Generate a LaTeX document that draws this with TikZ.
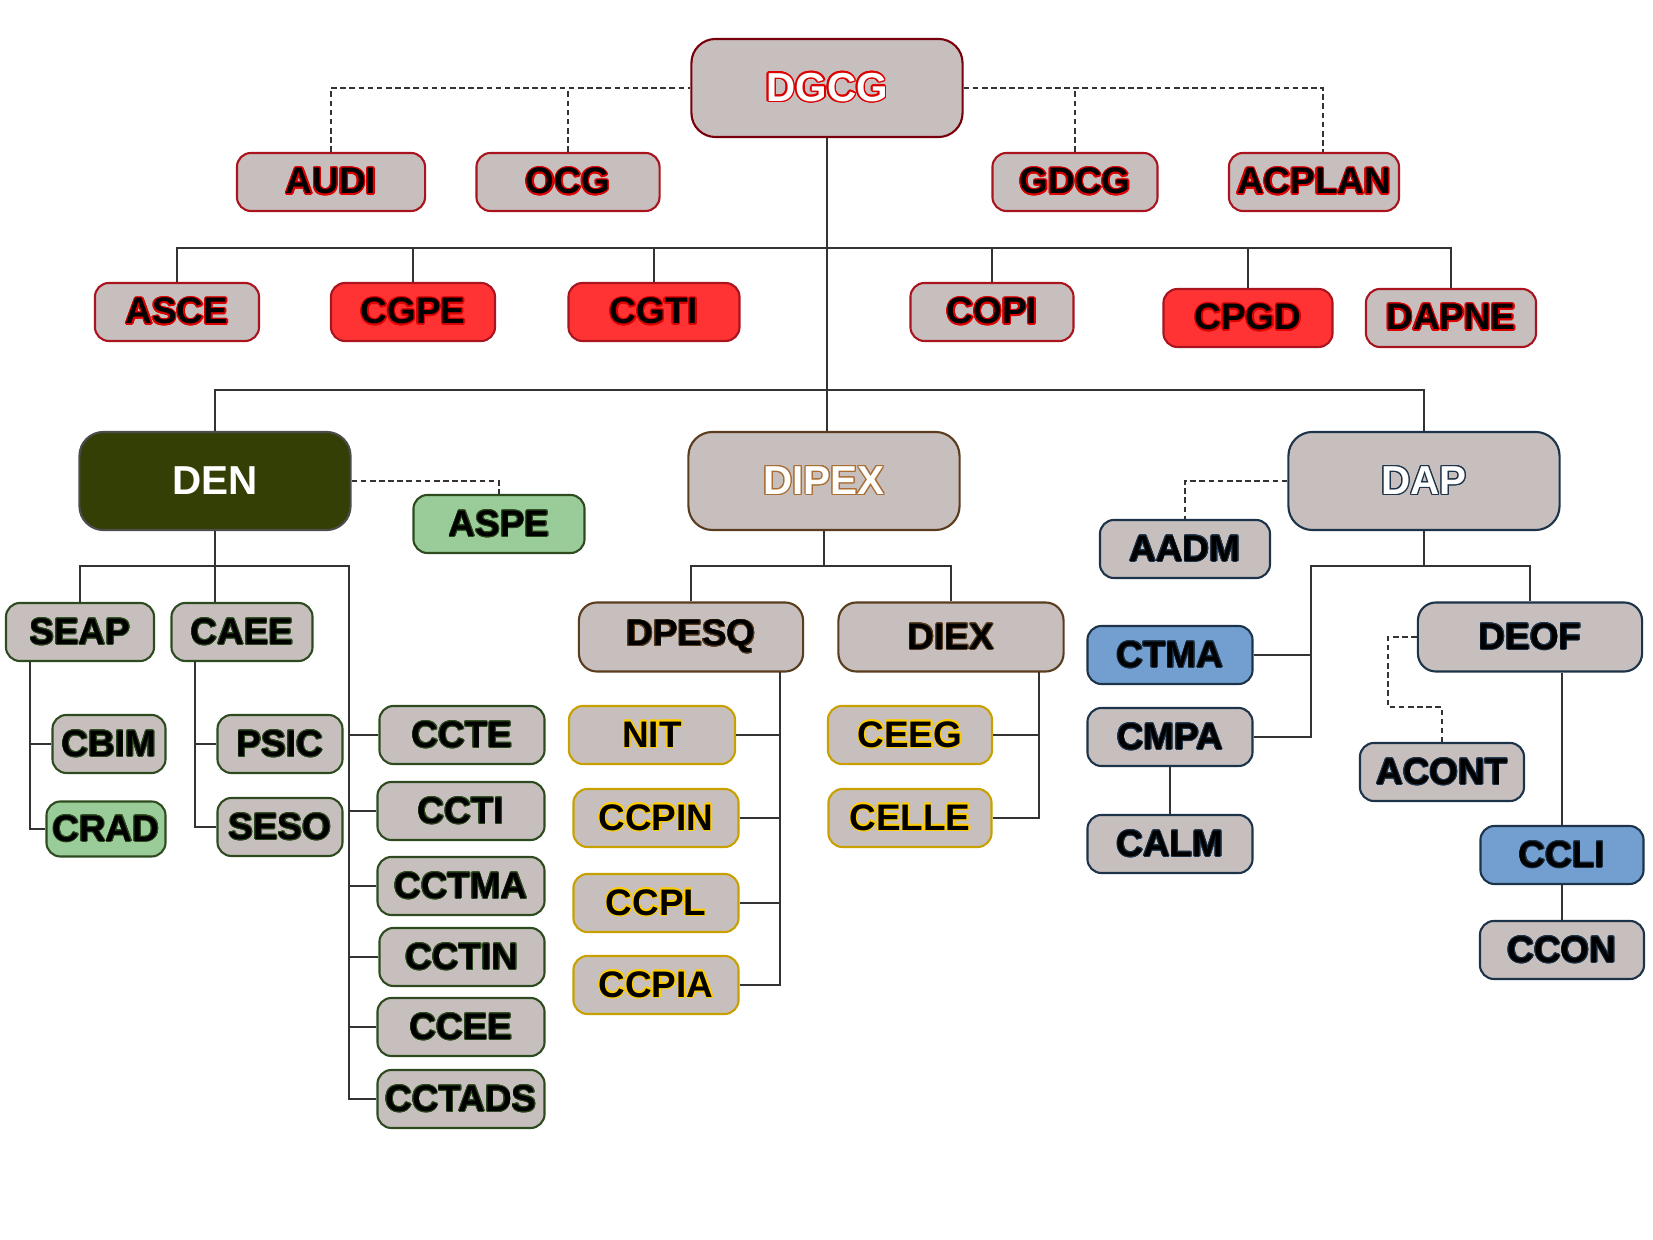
\documentclass[tikz,border=0pt]{standalone}
\usepackage{fontspec}
\setmainfont{Liberation Sans}
\usepackage{contour}
\contourlength{0.45pt}

\definecolor{boxgray}{RGB}{199,191,189}
\definecolor{boxred}{RGB}{255,51,51}
\definecolor{boxgreen}{RGB}{153,204,153}
\definecolor{boxblue}{RGB}{114,159,207}
\definecolor{denfill}{RGB}{51,63,4}
\definecolor{edgered}{RGB}{170,20,30}
\definecolor{edgedark}{RGB}{120,0,10}
\definecolor{edgegreen}{RGB}{45,75,30}
\definecolor{edgebrown}{RGB}{90,60,30}
\definecolor{edgegold}{RGB}{200,160,0}
\definecolor{edgenavy}{RGB}{28,51,73}
\definecolor{txtred}{RGB}{220,0,0}
\definecolor{txtgold}{RGB}{255,205,0}
\definecolor{txtbrown}{RGB}{170,110,50}

\newcommand{\rtxt}[1]{{\contourlength{0.4pt}\contour{txtred}{#1}}}
\newcommand{\gtxt}[1]{{\contourlength{0.2pt}\contour{edgegreen}{#1}}}
\newcommand{\ytxt}[1]{{\contourlength{0.35pt}\contour{txtgold}{#1}}}
\newcommand{\btxt}[1]{{\contourlength{0.2pt}\contour{edgenavy}{#1}}}
\newcommand{\otxt}[1]{{\contourlength{0.2pt}\contour{edgebrown}{#1}}}

\tikzset{
  unit/.style={rounded corners=0.14cm, fill=boxgray, line width=0.6pt,
    minimum width=1.65cm, minimum height=0.58cm, inner sep=0pt,
    font=\bfseries\fontsize{10.5}{12}\selectfont},
  head/.style={unit, rounded corners=0.24cm, minimum width=2.71cm,
    minimum height=0.98cm, font=\bfseries\fontsize{11.5}{13}\selectfont},
  midunit/.style={unit, rounded corners=0.18cm, minimum width=2.24cm, minimum height=0.69cm},
  redunit/.style={unit, draw=edgered},
  greenunit/.style={unit, draw=edgegreen},
  brownunit/.style={midunit, draw=edgebrown},
  goldunit/.style={unit, draw=edgegold},
  navyunit/.style={unit, draw=edgenavy},
  link/.style={draw=black!80, line width=0.5pt},
  dotlink/.style={draw=black!80, line width=0.45pt, dash pattern=on 1.6pt off 1pt}
}

\begin{document}
\begin{tikzpicture}[x=0.01cm, y=-0.01cm]
	\useasboundingbox (0,0) rectangle (1653,1240);
	
	\node[head, draw=edgedark, text=white] (DGCG) at (827,88) {{\contourlength{0.45pt}\contour{txtred}{DGCG}}};
	\node[redunit, minimum width=1.88cm] (AUDI) at (331,182) {\rtxt{AUDI}};
	\node[redunit, minimum width=1.83cm] (OCG) at (568,182) {\rtxt{OCG}};
	\node[redunit] (GDCG) at (1075,182) {\rtxt{GDCG}};
	\node[redunit, minimum width=1.70cm] (ACPLAN) at (1314,182) {\rtxt{ACPLAN}};
	
	\node[redunit, minimum width=1.64cm] (ASCE) at (177,312) {\rtxt{ASCE}};
	\node[redunit, fill=boxred, minimum width=1.64cm] (CGPE) at (413,312) {\rtxt{CGPE}};
	\node[redunit, fill=boxred, minimum width=1.71cm] (CGTI) at (654,312) {\rtxt{CGTI}};
	\node[redunit, minimum width=1.63cm] (COPI) at (992,312) {\rtxt{COPI}};
	\node[redunit, fill=boxred, minimum width=1.69cm] (CPGD) at (1248,318) {\rtxt{CPGD}};
	\node[redunit, minimum width=1.70cm] (DAPNE) at (1451,318) {\rtxt{DAPNE}};
	
	\node[head, fill=denfill, draw=black!70, text=white] (DEN) at (215,481) {DEN};
	\node[head, draw=edgebrown, text=white] (DIPEX) at (824,481) {{\contourlength{0.3pt}\contour{txtbrown}{DIPEX}}};
	\node[head, draw=edgenavy, text=white] (DAP) at (1424,481) {{\contourlength{0.3pt}\contour{edgenavy}{DAP}}};
	
	\node[greenunit, fill=boxgreen, minimum width=1.71cm] (ASPE) at (499,524) {\gtxt{ASPE}};
	\node[navyunit, minimum width=1.70cm] (AADM) at (1185,549) {\btxt{AADM}};
	
	\node[greenunit, minimum width=1.48cm] (SEAP) at (80,632) {\gtxt{SEAP}};
	\node[greenunit, minimum width=1.41cm] (CAEE) at (242,632) {\gtxt{CAEE}};
	\node[greenunit, minimum width=1.13cm] (CBIM) at (109,744) {\gtxt{CBIM}};
	\node[greenunit, fill=boxgreen, minimum width=1.19cm, minimum height=0.55cm] (CRAD) at (106,829) {\gtxt{CRAD}};
	\node[greenunit, minimum width=1.25cm] (PSIC) at (280,744) {\gtxt{PSIC}};
	\node[greenunit, minimum width=1.25cm] (SESO) at (280,827) {\gtxt{SESO}};
	
	\node[greenunit] (CCTE) at (462,735) {\gtxt{CCTE}};
	\node[greenunit, minimum width=1.67cm] (CCTI) at (461,811) {\gtxt{CCTI}};
	\node[greenunit, minimum width=1.67cm] (CCTMA) at (461,886) {\gtxt{CCTMA}};
	\node[greenunit] (CCTIN) at (462,957) {\gtxt{CCTIN}};
	\node[greenunit, minimum width=1.67cm] (CCEE) at (461,1027) {\gtxt{CCEE}};
	\node[greenunit, minimum width=1.67cm] (CCTADS) at (461,1099) {\gtxt{CCTADS}};
	
	\node[brownunit] (DPESQ) at (691,637) {\otxt{DPESQ}};
	\node[brownunit, minimum width=2.25cm] (DIEX) at (951,637) {\otxt{DIEX}};
	\node[goldunit, minimum width=1.66cm] (NIT) at (652,735) {\ytxt{NIT}};
	\node[goldunit] (CCPIN) at (656,818) {\ytxt{CCPIN}};
	\node[goldunit] (CCPL) at (656,903) {\ytxt{CCPL}};
	\node[goldunit] (CCPIA) at (656,985) {\ytxt{CCPIA}};
	\node[goldunit, minimum width=1.64cm] (CEEG) at (910,735) {\ytxt{CEEG}};
	\node[goldunit, minimum width=1.63cm] (CELLE) at (910,818) {\ytxt{CELLE}};
	
	\node[navyunit, midunit, draw=edgenavy] (DEOF) at (1530,637) {\btxt{DEOF}};
	\node[navyunit, fill=boxblue] (CTMA) at (1170,655) {\btxt{CTMA}};
	\node[navyunit] (CMPA) at (1170,737) {\btxt{CMPA}};
	\node[navyunit] (CALM) at (1170,844) {\btxt{CALM}};
	\node[navyunit, minimum width=1.64cm] (ACONT) at (1442,772) {\btxt{ACONT}};
	\node[navyunit, fill=boxblue, minimum width=1.63cm] (CCLI) at (1562,855) {\btxt{CCLI}};
	\node[navyunit, minimum width=1.64cm] (CCON) at (1562,950) {\btxt{CCON}};
	
	\coordinate (bus1) at (827,248);
	\coordinate (bus2) at (827,390);
	\coordinate (dencol) at (349,566);
	\coordinate (seapcol) at (30,661);
	\coordinate (caeecol) at (195,661);
	\coordinate (dipexbus) at (824,566);
	\coordinate (dpesqcol) at (780,672);
	\coordinate (diexcol) at (1039,672);
	\coordinate (dapleft) at (1311,566);
	\coordinate (acontbend) at (1388,707);
	
	\draw[dotlink] (AUDI.north) |- (DGCG.west);
	\draw[dotlink] (OCG.north) -- (OCG.north |- DGCG.west);
	\draw[dotlink] (DGCG.east) -| ([xshift=0.09cm]ACPLAN.north);
	\draw[dotlink] (GDCG.north) -- (GDCG.north |- DGCG.east);
	\draw[dotlink] (DEN.east) -| (ASPE.north);
	\draw[dotlink] (DAP.west) -| (AADM.north);
	\draw[dotlink] (DEOF.west) -| (acontbend) -| (ACONT.north);
	
	\draw[link] (DGCG.south) -- (DGCG.south |- DIPEX.north);
	\draw[link] (ASCE.north) |- (bus1) -| (DAPNE.north);
	\foreach \n in {CGPE,CGTI,COPI,CPGD}
		\draw[link] (\n.north) -- (\n.north |- bus1);
	\draw[link] (DEN.north) |- (bus2) -| (DAP.north);
	
	\draw[link] (DEN.south) -- (DEN.south |- CAEE.north);
	\draw[link] (SEAP.north) |- (dencol) |- (CCTADS.west);
	\foreach \n in {CCTE,CCTI,CCTMA,CCTIN,CCEE}
		\draw[link] (\n.west) -- (\n.west -| dencol);
	\draw[link] (seapcol) |- (CRAD.west);
	\draw[link] (CBIM.west) -- (CBIM.west -| seapcol);
	\draw[link] (caeecol) |- (SESO.west);
	\draw[link] (PSIC.west) -- (PSIC.west -| caeecol);
	
	\draw[link] (DIPEX.south) -- (dipexbus);
	\draw[link] (DPESQ.north) |- (dipexbus) -| (DIEX.north);
	\draw[link] (dpesqcol) |- (CCPIA.east);
	\foreach \n in {NIT,CCPIN,CCPL}
		\draw[link] (\n.east) -- (\n.east -| dpesqcol);
	\draw[link] (diexcol) |- (CELLE.east);
	\draw[link] (CEEG.east) -- (CEEG.east -| diexcol);
	
	\draw[link] (DAP.south) -- (DAP.south |- dapleft);
	\draw[link] (CMPA.east) -| (dapleft) -| (DEOF.north);
	\draw[link] (CTMA.east) -- (CTMA.east -| dapleft);
	\draw[link] (CMPA.south) -- (CALM.north);
	\draw[link] (CCLI.north) -- (CCLI.north |- DEOF.south);
	\draw[link] (CCLI.south) -- (CCON.north);
\end{tikzpicture}
\end{document}
